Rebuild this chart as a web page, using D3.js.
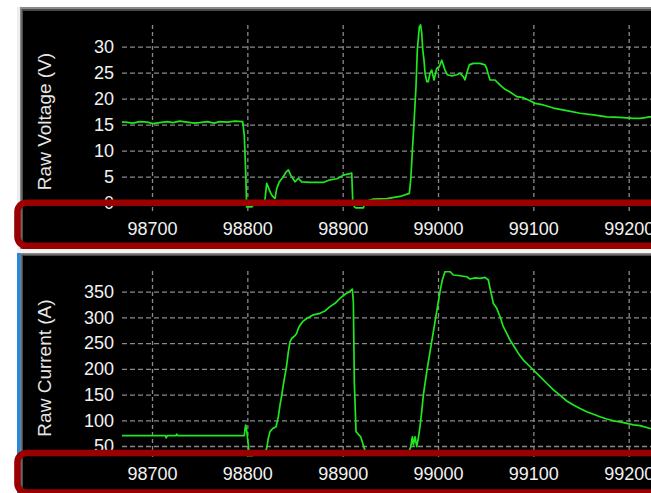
<!DOCTYPE html>
<html><head><meta charset="utf-8">
<script src="https://cdn.jsdelivr.net/npm/d3@7/dist/d3.min.js"></script>
<style>
html,body{margin:0;padding:0;background:#ffffff;overflow:hidden}
svg{display:block}
</style></head>
<body>
<script>
// ---- data ----
const xTicks = [98700, 98800, 98900, 99000, 99100, 99200];
const voltageTicks = [0, 5, 10, 15, 20, 25, 30];
const currentTicks = [50, 100, 150, 200, 250, 300, 350];
const voltageTitle = "Raw Voltage (V)";
const currentTitle = "Raw Current (A)";

const voltageT = [98660,98672,98680,98687,98695,98701,98708,98716,98722,98729,98737,98744,98750,98758,98765,98771,98779,98787,98795.1,98796.8,98798.3,98799.3,98805,98809,98817.5,98818.5,98820.3,98822,98823.8,98825.6,98827.2,98829,98830.8,98833.5,98837.7,98840.6,98843,98845.5,98847.9,98850,98853.5,98857,98865.7,98872,98879.7,98886.7,98894.1,98900.7,98907.7,98909.5,98910.5,98912.2,98914,98921.7,98923.5,98932.1,98946.2,98960.2,98969.9,98971.4,98973.1,98974.8,98976.9,98978.3,98980.4,98981.7,98982.9,98984,98985.3,98986.4,98988.2,98989.8,98991.6,98993.4,98995.8,98998.6,99001.4,99003.9,99007.3,99009.8,99014.4,99019.6,99023.1,99026.6,99028.3,99030.1,99032.8,99037,99044.1,99049.3,99051.1,99052.8,99054.6,99059.8,99065.1,99070.3,99075.5,99082.6,99089.5,99096.5,99101.8,99110.5,99121,99135,99149,99162.9,99177,99190.9,99204.9,99211.9,99222.4,99235];
const voltageV = [15.5,15.5,15.3,15.6,15.5,15.2,15.4,15.6,15.4,15.7,15.5,15.3,15.4,15.6,15.3,15.6,15.5,15.7,15.6,13,5.7,-0.8,-0.8,0.2,0.3,0.6,3.7,3.0,2.1,1.5,1.1,0.8,2.7,4.0,5.0,5.9,6.3,5.3,4.6,4.0,4.7,4.0,3.9,3.9,3.9,4.4,4.6,5.3,5.6,5.7,0.5,-0.8,-1.0,-1.0,0.2,0.7,0.8,1.2,1.8,4.4,10.1,15.3,22.3,29.4,33.8,34.2,32.6,29.4,27.4,24.9,23.3,23.3,24.9,25.5,23.6,25.8,26.2,27.4,25.5,24.6,24.4,24.6,24.9,24.2,23.6,24.9,26.5,26.8,26.8,26.5,25.8,24.6,23.6,23.6,22.6,21.8,21.3,20.4,20.2,19.6,19.1,18.8,18.2,17.7,17.2,16.9,16.5,16.4,16.2,16.2,16.5,16.4];

const currentT = [98660,98672,98714,98715,98716,98725,98726,98727,98796.8,98797.6,98798.3,98799.3,98801,98802.1,98804.9,98809.1,98818.5,98820.3,98822,98823.8,98826.6,98830.1,98832.5,98834.3,98836.1,98837.7,98839.5,98841.3,98843,98844.8,98846.5,98850,98851.8,98853.5,98855.3,98858.7,98862.3,98869.2,98876.2,98881.5,98886.7,98892,98897.2,98902.5,98907.7,98910.1,98911.2,98912.2,98914,98916.4,98918.9,98921.6,98924.5,98968.5,98971.4,98973.1,98974.1,98975.9,98977.7,98979.3,98981.1,98982.9,98984.6,98988.2,98991.6,98995.1,98998.6,99002.1,99004.5,99007.3,99012.6,99016.1,99023.1,99030.1,99033.6,99038.8,99044.1,99049.3,99052.8,99054.6,99058,99061.6,99065.1,99068.5,99072.1,99075.5,99079,99084.3,99089.5,99094.7,99100,99107,99114,99121,99128,99135,99142,99149,99156,99163,99169.9,99177,99184,99191,99198,99205,99212,99222.4,99235];
const currentA = [70,70,70,66,70,70,73,70,70,84,90.8,80,52,31,31,35,38,45.5,65,78,84,87.5,107,130,149,168.6,188,207.5,233,253,259,264.5,269,279,285,293,298,305,308,312.5,321,327.5,337,345,351,355,330,175,78,72.7,68,52,35,35,48.6,68,52,68,48.6,65,87.5,116.7,149,194.5,233,272,311,350,372.7,389,389,382.5,381,379,374.7,377,376,378,372.7,356.6,327.5,317.7,301.4,282,269,256,246,230,217,207.5,197.8,184.7,172,159,149,137.5,129.7,123,116.7,111.6,107,102.5,99,97,94,91,89.5,84,81];

// ---- layout ----
const W = 651, H = 493;
const plotLeft = 122, plotRight = 660;
const top1 = 24, bot1 = 211, top2 = 271, bot2 = 457;
const font = "'Liberation Sans', Arial, sans-serif";
const gridColor = "#8a8a8a";
const lineColor = "#1ee81e";
const boxColor = "#9a0000";
const textColor = "#f2f2f2";

const svg = d3.select("body").append("svg").attr("width", W).attr("height", H);

// panel frames
// top panel
svg.append("rect").attr("x",17).attr("y",7).attr("width",700).attr("height",244).attr("fill","#eeeeee");
svg.append("rect").attr("x",20).attr("y",7).attr("width",700).attr("height",244).attr("fill","#8a8a8a");
svg.append("rect").attr("x",21.5).attr("y",9).attr("width",700).attr("height",242).attr("fill","#4a4a4a");
svg.append("rect").attr("x",23).attr("y",11).attr("width",700).attr("height",240).attr("fill","#000");
// separator
svg.append("rect").attr("x",17).attr("y",249).attr("width",700).attr("height",4).attr("fill","#f4f4f4");
// bottom panel
svg.append("rect").attr("x",17).attr("y",253).attr("width",700).attr("height",250).attr("fill","#2a86dc");
svg.append("rect").attr("x",20.5).attr("y",253).attr("width",700).attr("height",250).attr("fill","#8a8a8a");
svg.append("rect").attr("x",21.5).attr("y",254.5).attr("width",700).attr("height",250).attr("fill","#4a4a4a");
svg.append("rect").attr("x",23).attr("y",256).attr("width",700).attr("height",250).attr("fill","#000");

// scales
const x = d3.scaleLinear().domain([98700, 99200]).range([152, 628.7]);
const yV = d3.scaleLinear().domain([0, 30]).range([202.7, 46.7]);
const yA = d3.scaleLinear().domain([50, 350]).range([446, 291.7]);

const defs = svg.append("defs");
defs.append("clipPath").attr("id","c1").append("rect")
  .attr("x",plotLeft).attr("y",top1).attr("width",plotRight-plotLeft).attr("height",bot1-top1);
defs.append("clipPath").attr("id","c2").append("rect")
  .attr("x",plotLeft).attr("y",top2).attr("width",plotRight-plotLeft).attr("height",bot2-top2);

function panel(yScale, yTicks, top, bot, title, tT, tV, clipId, labelBase) {
  const g = svg.append("g");
  // vertical grid
  const gx = g.append("g").attr("transform", `translate(0,${bot})`)
    .call(d3.axisBottom(x).tickValues(xTicks).tickSize(-(bot-top)).tickFormat(""));
  gx.select(".domain").remove();
  gx.selectAll("line").attr("stroke", gridColor).attr("stroke-width",1.3).attr("stroke-dasharray","4,3");
  // horizontal grid + labels
  const gy = g.append("g").attr("transform", `translate(${plotLeft},0)`)
    .call(d3.axisLeft(yScale).tickValues(yTicks).tickSize(-(plotRight-plotLeft)).tickPadding(8));
  gy.select(".domain").remove();
  gy.selectAll("line").attr("stroke", gridColor).attr("stroke-width",1.3).attr("stroke-dasharray","5,3");
  gy.selectAll("text").attr("fill", textColor).style("font-family", font).style("font-size","18px");
  // title
  g.append("text").attr("transform", `translate(50.5,${(top+bot)/2 + 4}) rotate(-90)`)
    .attr("text-anchor","middle").attr("fill","#e6e6e6")
    .style("font-family", font).style("font-size","19px").text(title);
  // line
  const data = tT.map((t,i)=>[t, tV[i]]);
  g.append("path").datum(data).attr("clip-path", `url(#${clipId})`)
    .attr("fill","none").attr("stroke", lineColor).attr("stroke-width",1.7)
    .attr("stroke-linejoin","round")
    .attr("d", d3.line().x(d=>x(d[0])).y(d=>yScale(d[1])));
  // x labels
  const gl = g.append("g").attr("transform", `translate(0,${labelBase})`)
    .call(d3.axisBottom(x).tickValues(xTicks).tickSize(0).tickPadding(0).tickFormat(d3.format("d")));
  gl.select(".domain").remove();
  gl.selectAll("text").attr("fill", textColor).style("font-family", font).style("font-size","18px");
}

panel(yV, voltageTicks, top1, bot1, voltageTitle, voltageT, voltageV, "c1", 222);
panel(yA, currentTicks, top2, bot2, currentTitle, currentT, currentA, "c2", 467);

// red highlight boxes
svg.append("rect").attr("x",17.5).attr("y",202.7).attr("width",700).attr("height",43)
  .attr("rx",9).attr("fill","none").attr("stroke",boxColor).attr("stroke-width",6.6);
svg.append("rect").attr("x",17.5).attr("y",453).attr("width",700).attr("height",39.5)
  .attr("rx",9).attr("fill","none").attr("stroke",boxColor).attr("stroke-width",6.6);
</script>
</body></html>
